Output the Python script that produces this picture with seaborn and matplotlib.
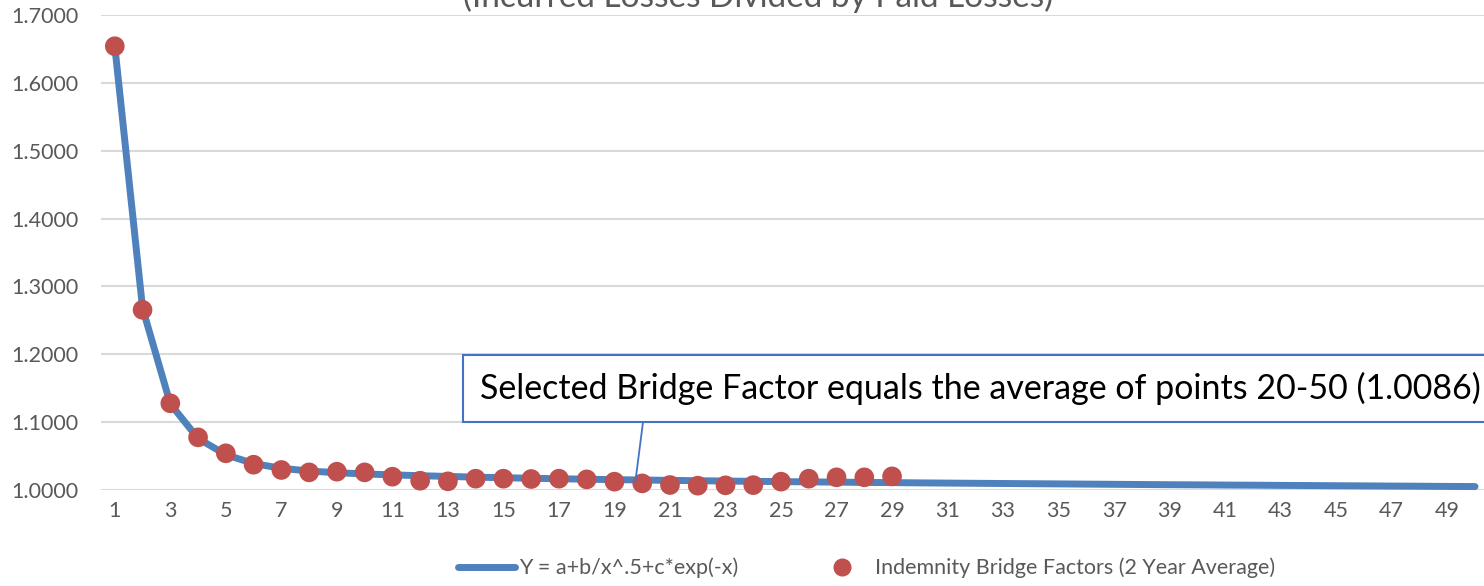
import matplotlib
matplotlib.use('Agg')
import matplotlib.pyplot as plt
import pandas as pd
import seaborn as sns
from matplotlib.lines import Line2D

# pontos observados (fatores de ponte, média de 2 anos)
periodos = list(range(1, 30))
fatores = [1.6540, 1.2655, 1.1278, 1.0776, 1.0541, 1.0373, 1.0295, 1.0260, 1.0270, 1.0260,
           1.0196, 1.0137, 1.0128, 1.0167, 1.0167, 1.0162, 1.0167, 1.0157, 1.0123, 1.0098,
           1.0074, 1.0064, 1.0069, 1.0072, 1.0123, 1.0167, 1.0187, 1.0187, 1.0201]

# curva ajustada Y = a+b/x^.5+c*exp(-x)
periodos_curva = list(range(1, 51))
curva = [1.6540, 1.2680, 1.1270, 1.0760, 1.0520, 1.0390, 1.0320, 1.0280, 1.0255, 1.0237,
         1.0223, 1.0211, 1.0200, 1.0190, 1.0181, 1.0173, 1.0166, 1.0159, 1.0153, 1.0147,
         1.0142, 1.0137, 1.0132, 1.0128, 1.0124, 1.0120, 1.0116, 1.0112, 1.0109, 1.0105,
         1.0102, 1.0099, 1.0096, 1.0093, 1.0090, 1.0087, 1.0084, 1.0081, 1.0078, 1.0076,
         1.0073, 1.0071, 1.0068, 1.0066, 1.0063, 1.0061, 1.0058, 1.0056, 1.0053, 1.0051]

xticks = list(range(1, 51, 2))
yticks = [1.0, 1.1, 1.2, 1.3, 1.4, 1.5, 1.6, 1.7]

titulo = '(Incurred Losses Divided by Paid Losses)'
nota = 'Selected Bridge Factor equals the average of points 20-50 (1.0086)'
rotulo_curva = 'Y = a+b/x^.5+c*exp(-x)'
rotulo_pontos = 'Indemnity Bridge Factors (2 Year Average)'

df_pontos = pd.DataFrame({'x': periodos, 'y': fatores})
df_curva = pd.DataFrame({'x': periodos_curva, 'y': curva})

sns.set_style('white')
plt.rcParams['font.family'] = ['Lato', 'DejaVu Sans']

azul = '#4F81BD'
vermelho = '#C0504D'
cinza = '#595959'

fig = plt.figure(figsize=(14.84, 5.86), dpi=100)
ax = fig.add_axes([0.068, 0.1638, 0.9353, 0.8106])

for y in yticks:
    ax.axhline(y, color='#D9D9D9', lw=1.5, zorder=0)

sns.lineplot(data=df_curva, x='x', y='y', ax=ax, color=azul, lw=5,
             solid_capstyle='round', zorder=2, clip_on=False)
sns.scatterplot(data=df_pontos, x='x', y='y', ax=ax, color=vermelho, s=200,
                edgecolor='none', zorder=3, clip_on=False)

ax.set_xlim(0.5, 50.5)
ax.set_ylim(1.0, 1.7)
ax.set_xticks(xticks)
ax.set_yticks(yticks)
ax.set_yticklabels([f'{v:.4f}' for v in yticks])
ax.tick_params(axis='both', length=0, labelsize=15.5, colors=cinza, pad=8)
ax.tick_params(axis='y', pad=16)
ax.set_xlabel('')
ax.set_ylabel('')
for s in ax.spines.values():
    s.set_visible(False)

# caixa de anotação (cortada na borda direita, como no original)
ax.annotate(nota, xy=(19.75, 1.0115), xytext=(14.16, 1.150),
            fontsize=24.5, color='black', va='center', ha='left',
            bbox=dict(boxstyle='square,pad=0.5', fc='white', ec='#4472C4', lw=1.5),
            arrowprops=dict(arrowstyle='-', color='#4472C4', lw=1.3,
                            relpos=(0.165, 0), shrinkA=0, shrinkB=0),
            zorder=4, annotation_clip=False)

fig.text(0.511, 0.988, titulo, ha='center', va='baseline', fontsize=24, color=cinza)

handles = [Line2D([], [], color=azul, lw=5),
           Line2D([], [], color=vermelho, marker='o', ls='none', markersize=12)]
fig.legend(handles, [rotulo_curva, rotulo_pontos], loc='center',
           bbox_to_anchor=(0.584, 0.031), ncol=2, frameon=False,
           fontsize=15.5, labelcolor=cinza, handlelength=2.65, handletextpad=0.2,
           columnspacing=3.5)

fig.savefig('out.png', dpi=100)
